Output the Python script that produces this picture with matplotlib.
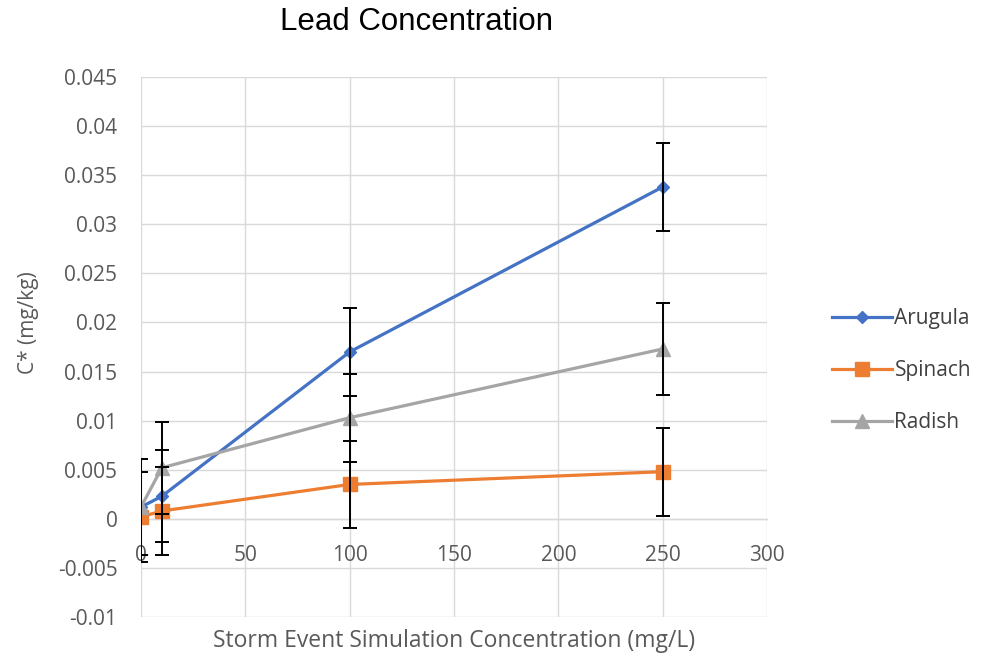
import matplotlib
matplotlib.use("Agg")
import matplotlib.pyplot as plt

# ---- data ----
conc = [0, 10, 100, 250]
arugula = [0.0012, 0.0023, 0.0170, 0.0338]
arugula_err = [0.0049, 0.0047, 0.0045, 0.0045]
spinach = [0.0002, 0.0008, 0.0035, 0.0048]
spinach_err = [0.0046, 0.0045, 0.0044, 0.0045]
radish = [0.0012, 0.0052, 0.0103, 0.0173]
radish_err = [0.0049, 0.0047, 0.0045, 0.0047]
series_names = ["Arugula", "Spinach", "Radish"]
x_ticks = [0, 50, 100, 150, 200, 250, 300]
y_ticks = [-0.01, -0.005, 0, 0.005, 0.01, 0.015, 0.02, 0.025, 0.03, 0.035, 0.04, 0.045]
y_tick_labels = ["-0.01", "-0.005", "0", "0.005", "0.01", "0.015", "0.02",
                 "0.025", "0.03", "0.035", "0.04", "0.045"]

plt.rcParams['font.family'] = ['Open Sans', 'DejaVu Sans']
FS = 15

fig = plt.figure(figsize=(9.9, 6.57), dpi=100)
ax = fig.add_axes([141/990, 1-617/657, 626/990, 540/657])

colors = ["#4472C4", "#ED7D31", "#A5A5A5"]
markers = ["D", "s", "^"]
msizes = [6.5, 9.5, 10]
datasets = [(arugula, arugula_err), (spinach, spinach_err), (radish, radish_err)]

for (vals, errs), name, c, m, ms in zip(datasets, series_names, colors, markers, msizes):
    ax.plot(conc, vals, color=c, lw=2.3, marker=m, ms=ms, mec=c, mfc=c,
            label=name, zorder=3)
    ax.errorbar(conc, vals, yerr=errs, fmt='none', ecolor='black',
                elinewidth=1.4, capsize=5, capthick=1.4, zorder=4)

ax.set_xlim(0, 300)
ax.set_ylim(-0.01, 0.045)
ax.set_xticks(x_ticks)
ax.set_yticks(y_ticks)
ax.set_yticklabels(y_tick_labels)
ax.grid(True, color="#D9D9D9", lw=1.0, zorder=0)
ax.set_axisbelow(True)

for s in ['top', 'right', 'left']:
    ax.spines[s].set_visible(False)
ax.spines['bottom'].set_position(('data', 0))
ax.spines['bottom'].set_color("#D9D9D9")
ax.spines['bottom'].set_linewidth(1.0)

ax.tick_params(axis='both', length=0, colors="#595959", labelsize=FS)
ax.tick_params(axis='x', pad=19)
ax.tick_params(axis='y', pad=17)

ax.set_xlabel("Storm Event Simulation Concentration (mg/L)", color="#595959",
              fontsize=16.5)
ax.xaxis.set_label_coords(0.5, -0.022)
ax.set_ylabel("C* (mg/kg)", color="#595959", fontsize=FS)
ax.yaxis.set_label_coords(-0.163, 0.546)

fig.text(416/990, 1-22/657, "Lead Concentration", ha='center', va='center',
         fontsize=22.5, family='Liberation Sans', color='black')

leg = ax.legend(loc='upper left', bbox_to_anchor=(832/990, 1-308/657),
                bbox_transform=fig.transFigure, frameon=False, fontsize=FS,
                handlelength=2.9, handletextpad=0.1, labelspacing=1.5,
                borderaxespad=0, borderpad=0)
for t in leg.get_texts():
    t.set_color("#404040")

fig.savefig("out.png", dpi=100)
